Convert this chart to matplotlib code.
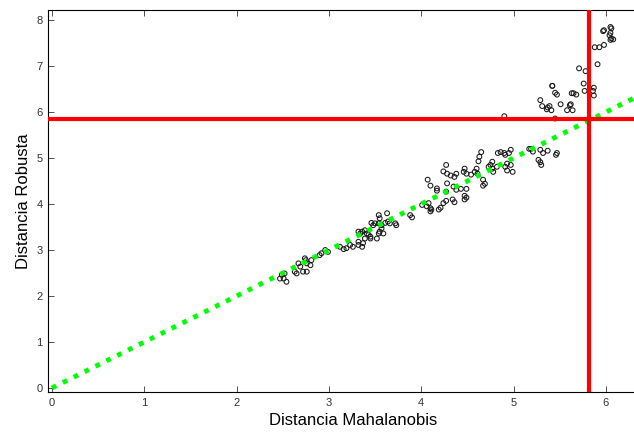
import numpy as np
import matplotlib.pyplot as plt

# distancias (Mahalanobis, Robusta)
maha = [
    2.47, 2.49, 2.51, 2.52, 2.54, 2.63, 2.65, 2.67, 2.69, 2.72, 2.76, 2.74, 2.75,
    2.76, 2.80, 2.81, 2.90, 2.92, 2.96, 2.99, 3.12, 3.16, 3.19, 3.23, 3.26, 3.32,
    3.32, 3.36, 3.37, 3.32, 3.34, 3.36, 3.39, 3.41, 3.43, 3.45, 3.55, 3.57, 3.54,
    3.59, 3.52, 3.45, 3.39, 3.46, 3.48, 3.50, 3.54, 3.57, 3.61, 3.64, 3.66, 3.72,
    3.73, 3.54, 3.55, 3.63, 3.88, 3.90, 4.01, 4.08, 4.10, 4.11, 4.24, 4.06, 4.10,
    4.19, 4.21, 4.27, 4.34, 4.36, 4.47, 4.47, 4.49, 4.17, 4.27, 4.38, 4.43, 4.49,
    4.17, 4.28, 4.35, 4.07, 4.10, 4.67, 4.69, 4.67, 4.27, 4.24, 4.28, 4.32, 4.38,
    4.36, 4.47, 4.46, 4.49, 4.60, 4.58, 4.61, 4.54, 4.93, 4.97, 4.91, 4.99, 4.93,
    4.77, 4.75, 4.73, 4.77, 4.82, 4.78, 4.65, 4.63, 4.62, 4.83, 4.86, 4.90, 4.91,
    4.95, 4.97, 5.17, 5.19, 5.21, 5.29, 5.32, 5.37, 5.27, 5.29, 5.30, 5.46, 5.47,
    4.90, 5.45, 5.29, 5.31, 5.37, 5.39, 5.41, 5.36, 5.51, 5.61, 5.62, 5.58, 5.64,
    5.63, 5.65, 5.68, 5.42, 5.42, 5.45, 5.47, 5.76, 5.77, 5.87, 5.86, 5.87, 5.71,
    5.78, 5.91, 5.88, 5.93, 5.98, 5.98, 5.97, 6.05, 6.06, 6.05, 6.04, 6.06, 6.08,
    6.05,
]
robusta = [
    2.38, 2.46, 2.38, 2.49, 2.31, 2.53, 2.49, 2.71, 2.64, 2.53, 2.53, 2.82, 2.78,
    2.71, 2.67, 2.78, 2.89, 2.93, 3.00, 2.96, 3.07, 3.02, 3.04, 3.11, 3.07, 3.11,
    3.18, 3.07, 3.15, 3.40, 3.36, 3.40, 3.43, 3.36, 3.33, 3.29, 3.40, 3.47, 3.36,
    3.36, 3.25, 3.25, 3.25, 3.59, 3.54, 3.58, 3.58, 3.54, 3.59, 3.62, 3.58, 3.58,
    3.54, 3.76, 3.69, 3.80, 3.76, 3.71, 3.98, 4.02, 3.91, 3.88, 4.02, 3.95, 3.84,
    3.88, 3.92, 4.07, 4.10, 4.04, 4.18, 4.10, 4.14, 4.29, 4.27, 4.31, 4.33, 4.33,
    4.34, 4.45, 4.38, 4.53, 4.40, 4.53, 4.44, 4.40, 4.85, 4.71, 4.66, 4.62, 4.66,
    4.59, 4.77, 4.70, 4.66, 4.77, 4.70, 4.66, 4.64, 4.88, 4.85, 4.81, 4.70, 4.73,
    4.92, 4.85, 4.81, 4.77, 4.81, 4.70, 5.13, 5.03, 4.93, 5.11, 5.13, 5.11, 5.07,
    5.11, 5.18, 5.20, 5.20, 5.14, 5.18, 5.11, 5.16, 4.96, 4.91, 4.85, 5.07, 5.11,
    5.91, 5.86, 6.26, 6.13, 6.10, 6.13, 6.04, 6.06, 6.17, 6.15, 6.17, 6.04, 6.04,
    6.41, 6.41, 6.38, 6.57, 6.57, 6.42, 6.38, 6.62, 6.46, 6.53, 6.46, 6.36, 6.95,
    6.89, 7.04, 7.41, 7.41, 7.46, 7.78, 7.76, 7.85, 7.82, 7.72, 7.67, 7.60, 7.58,
    7.57,
]
corte_x = 5.82  # corte Mahalanobis
corte_y = 5.85  # corte robusta

plt.rcParams['font.family'] = ['Liberation Sans', 'DejaVu Sans']

fig = plt.figure(figsize=(6.34, 4.32), dpi=100)
ax = fig.add_axes([0.0757, 0.0926, 0.9243, 0.8843])

ax.plot([0, 6.5], [0, 6.5], color='#00ff00', lw=3.5, linestyle=(0, (1, 1.5)), zorder=3)
ax.scatter(maha, robusta, s=12, facecolors='none', edgecolors='#1a1a1a', linewidths=0.75, zorder=2)
ax.axhline(corte_y, color='red', lw=3, zorder=4)
ax.axvline(corte_x, color='red', lw=3, zorder=4)

ax.set_xlim(-0.043, 6.305)
ax.set_ylim(-0.087, 8.22)
ax.set_xticks(range(0, 7))
ax.set_yticks(range(0, 9))
ax.tick_params(direction='in', length=4, width=0.6, labelsize=8, colors='#333333',
               top=True, right=False, pad=4)
ax.spines['right'].set_visible(False)
for s in ['left', 'bottom', 'top']:
    ax.spines[s].set_linewidth(0.8)

ax.set_xlabel('Distancia Mahalanobis', fontsize=12, labelpad=3)
ax.xaxis.set_label_coords(0.52, -0.055)
ax.set_ylabel('Distancia Robusta', fontsize=12, labelpad=4)

fig.savefig('out.png', dpi=100)
